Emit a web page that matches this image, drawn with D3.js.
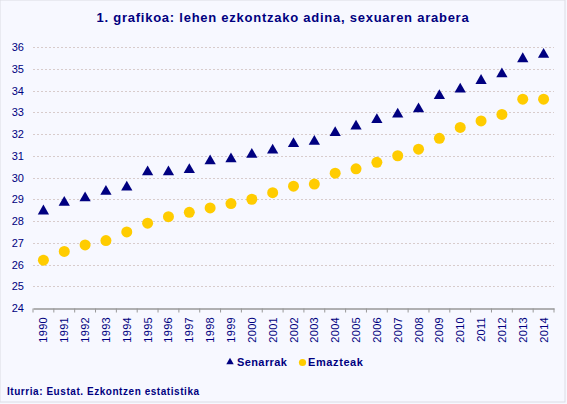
<!DOCTYPE html>
<html>
<head>
<meta charset="utf-8">
<script src="https://cdn.jsdelivr.net/npm/d3@7"></script>
<style>
  body { margin: 0; background: #f7f8ff; }
  svg { display: block; }
  text { font-family: "Liberation Sans", Arial, sans-serif; fill: #000080; }
</style>
</head>
<body>
<div class="canvas"></div>
<script>
// data
const years = ["1990","1991","1992","1993","1994","1995","1996","1997","1998","1999","2000","2001","2002",
  "2003","2004","2005","2006","2007","2008","2009","2010","2011","2012","2013","2014"];
const senarrak = [28.5,28.9,29.1,29.4,29.6,30.3,30.3,30.4,30.8,30.9,31.1,31.3,31.6,
  31.7,32.1,32.4,32.7,32.95,33.2,33.8,34.1,34.5,34.8,35.5,35.7];
const emazteak = [26.2,26.6,26.9,27.1,27.5,27.9,28.2,28.4,28.6,28.8,29.0,29.3,29.6,
  29.7,30.2,30.4,30.7,31.0,31.3,31.8,32.3,32.6,32.9,33.6,33.6];
const yTicks = [24,25,26,27,28,29,30,31,32,33,34,35,36];
const seriesNames = ["Senarrak", "Emazteak"];

// dims
const W = 567, H = 404;
const plot = { left: 33, right: 554, top: 47, bottom: 308 };
const navy = "#000080", yellow = "#ffcc00";

const svg = d3.select(".canvas").append("svg")
  .attr("width", W).attr("height", H);

// frame
svg.append("rect").attr("x", 0).attr("y", 0).attr("width", W - 2).attr("height", H - 2)
  .attr("fill", "#f7f8ff").attr("stroke", "#dcdce4").attr("stroke-width", 1);

// title
svg.append("text")
  .attr("x", 283).attr("y", 22)
  .attr("text-anchor", "middle")
  .attr("font-size", 13).attr("font-weight", "bold")
  .attr("letter-spacing", 0.75)
  .text("1. grafikoa: lehen ezkontzako adina, sexuaren arabera");

// scales
const x = d3.scaleBand().domain(years).range([plot.left, plot.right]);
const y = d3.scaleLinear().domain([24, 36]).range([plot.bottom, plot.top]);

// grid
svg.append("g").selectAll("line")
  .data(yTicks.filter(d => d > 24))
  .join("line")
  .attr("x1", plot.left).attr("x2", plot.right)
  .attr("y1", d => Math.round(y(d)) + 0.5).attr("y2", d => Math.round(y(d)) + 0.5)
  .attr("stroke", "#d8cccc").attr("stroke-dasharray", "2,2");

// y labels
svg.append("g").selectAll("text")
  .data(yTicks)
  .join("text")
  .attr("x", 24).attr("y", d => y(d) + 4)
  .attr("text-anchor", "end")
  .attr("font-size", 11)
  .text(d => d);

// x axis
const xAxis = svg.append("g")
  .attr("transform", `translate(0, ${plot.bottom + 0.5})`)
  .call(d3.axisBottom(x).tickSize(0).tickFormat(""));
xAxis.select(".domain").attr("stroke", "#999").attr("stroke-width", 1.5);
xAxis.selectAll(".bound")
  .data(d3.range(years.length + 1))
  .join("line")
  .attr("class", "bound")
  .attr("x1", i => plot.left + i * x.step()).attr("x2", i => plot.left + i * x.step())
  .attr("y1", 0).attr("y2", 4)
  .attr("stroke", "#999");

svg.append("g").selectAll("text")
  .data(years)
  .join("text")
  .attr("transform", d => `translate(${x(d) + x.bandwidth() / 2 + 4}, 317) rotate(-90)`)
  .attr("text-anchor", "end")
  .attr("font-size", 11)
  .attr("letter-spacing", 0.3)
  .text(d => d);

// series: triangles
const tri = d3.symbol().type(d3.symbolTriangle).size(55);
svg.append("g").selectAll("path")
  .data(senarrak)
  .join("path")
  .attr("transform", (d, i) => `translate(${x(years[i]) + x.bandwidth() / 2}, ${y(d) + 1})`)
  .attr("d", tri)
  .attr("fill", navy);

// series: circles
svg.append("g").selectAll("circle")
  .data(emazteak)
  .join("circle")
  .attr("cx", (d, i) => x(years[i]) + x.bandwidth() / 2)
  .attr("cy", d => y(d))
  .attr("r", 5.5)
  .attr("fill", yellow);

// legend
const legend = svg.append("g");
legend.append("path")
  .attr("transform", "translate(230, 362)")
  .attr("d", d3.symbol().type(d3.symbolTriangle).size(24))
  .attr("fill", navy);
legend.append("text")
  .attr("x", 237).attr("y", 366)
  .attr("font-size", 11).attr("font-weight", "bold")
  .attr("letter-spacing", 0.4)
  .text(seriesNames[0]);
legend.append("circle")
  .attr("cx", 302.5).attr("cy", 362.5).attr("r", 3.6)
  .attr("fill", yellow);
legend.append("text")
  .attr("x", 308).attr("y", 366)
  .attr("font-size", 11).attr("font-weight", "bold")
  .attr("letter-spacing", 0.6)
  .text(seriesNames[1]);

// source
svg.append("text")
  .attr("x", 7).attr("y", 395)
  .attr("font-size", 10).attr("font-weight", "bold")
  .attr("letter-spacing", 0.55)
  .text("Iturria: Eustat. Ezkontzen estatistika");
</script>
</body>
</html>
